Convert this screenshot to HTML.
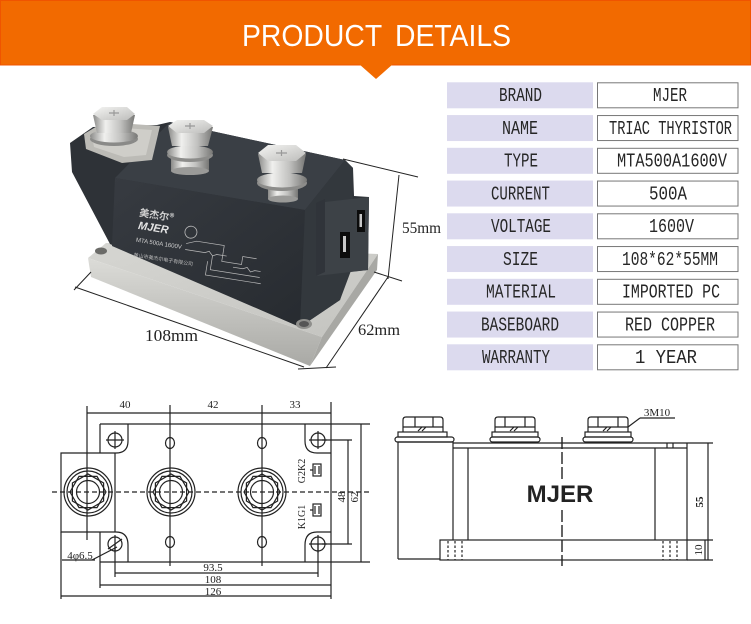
<!DOCTYPE html>
<html><head><meta charset="utf-8">
<style>
html,body{margin:0;padding:0;background:#fff;}
body{width:751px;height:624px;overflow:hidden;}
svg{display:block;}
</style></head><body>
<svg width="751" height="624" viewBox="0 0 751 624" xmlns="http://www.w3.org/2000/svg">
<defs>
 <linearGradient id="metal" x1="0" x2="1" y1="0" y2="0">
  <stop offset="0" stop-color="#8a8a88"/><stop offset="0.3" stop-color="#f0f0ee"/><stop offset="0.65" stop-color="#c2c2c0"/><stop offset="1" stop-color="#777775"/>
 </linearGradient>
 <linearGradient id="metalTop" x1="0" y1="0" x2="1" y2="1">
  <stop offset="0" stop-color="#f4f4f2"/><stop offset="1" stop-color="#bdbdbb"/>
 </linearGradient>
 <linearGradient id="face" x1="0" y1="0" x2="1" y2="1">
  <stop offset="0" stop-color="#373b41"/><stop offset="1" stop-color="#272b30"/>
 </linearGradient>
 <linearGradient id="ptop" x1="0" y1="0" x2="1" y2="1">
  <stop offset="0" stop-color="#d6d6d2"/><stop offset="1" stop-color="#c4c4c0"/>
 </linearGradient>
 <linearGradient id="pfront" x1="0" y1="0" x2="0" y2="1">
  <stop offset="0" stop-color="#dcdcd8"/><stop offset="1" stop-color="#a9a9a5"/>
 </linearGradient>
 <g id="term" fill="none" stroke="#222" stroke-width="1.2">
  <circle r="24"/><circle r="21"/>
  <polygon points="18,0 9,15.6 -9,15.6 -18,0 -9,-15.6 9,-15.6"/>
  <polygon points="15.6,9 0,18 -15.6,9 -15.6,-9 0,-18 15.6,-9"/>
  <circle r="11.5"/>
 </g>
</defs>

<!-- HEADER -->
<rect x="0" y="0" width="751" height="65" fill="#f26a00"/>
<rect x="0.5" y="0.5" width="750" height="64.5" fill="none" stroke="#f05400" stroke-width="1"/>
<polygon points="359,64 393,64 376,79" fill="#f26a00"/>
<text x="242" y="46" font-family="Liberation Sans, sans-serif" font-size="31" fill="#ffffff" textLength="269" lengthAdjust="spacingAndGlyphs" word-spacing="6">PRODUCT DETAILS</text>

<!-- TABLE -->
<g font-family="Liberation Mono, monospace" font-size="19" fill="#262626">
 <rect x="447" y="82.3" width="146" height="26" fill="#dcdaee"/>
 <rect x="597.5" y="82.8" width="140.5" height="25" fill="#fff" stroke="#777" stroke-width="1"/>
 <text x="499" y="101" textLength="43" lengthAdjust="spacingAndGlyphs">BRAND</text>
 <text x="653" y="101" textLength="34" lengthAdjust="spacingAndGlyphs">MJER</text>

 <rect x="447" y="115.05" width="146" height="26" fill="#dcdaee"/>
 <rect x="597.5" y="115.55" width="140.5" height="25" fill="#fff" stroke="#777" stroke-width="1"/>
 <text x="502" y="133.75" textLength="36" lengthAdjust="spacingAndGlyphs">NAME</text>
 <text x="609" y="133.75" textLength="123" lengthAdjust="spacingAndGlyphs">TRIAC THYRISTOR</text>

 <rect x="447" y="147.8" width="146" height="26" fill="#dcdaee"/>
 <rect x="597.5" y="148.3" width="140.5" height="25" fill="#fff" stroke="#777" stroke-width="1"/>
 <text x="504" y="166.5" textLength="34" lengthAdjust="spacingAndGlyphs">TYPE</text>
 <text x="617" y="166.5" textLength="110" lengthAdjust="spacingAndGlyphs">MTA500A1600V</text>

 <rect x="447" y="180.55" width="146" height="26" fill="#dcdaee"/>
 <rect x="597.5" y="181.05" width="140.5" height="25" fill="#fff" stroke="#777" stroke-width="1"/>
 <text x="491" y="199.25" textLength="59" lengthAdjust="spacingAndGlyphs">CURRENT</text>
 <text x="649" y="199.25" textLength="38" lengthAdjust="spacingAndGlyphs">500A</text>

 <rect x="447" y="213.3" width="146" height="26" fill="#dcdaee"/>
 <rect x="597.5" y="213.8" width="140.5" height="25" fill="#fff" stroke="#777" stroke-width="1"/>
 <text x="491" y="232" textLength="60" lengthAdjust="spacingAndGlyphs">VOLTAGE</text>
 <text x="649" y="232" textLength="45" lengthAdjust="spacingAndGlyphs">1600V</text>

 <rect x="447" y="246.05" width="146" height="26" fill="#dcdaee"/>
 <rect x="597.5" y="246.55" width="140.5" height="25" fill="#fff" stroke="#777" stroke-width="1"/>
 <text x="503" y="264.75" textLength="35" lengthAdjust="spacingAndGlyphs">SIZE</text>
 <text x="622" y="264.75" textLength="96" lengthAdjust="spacingAndGlyphs">108*62*55MM</text>

 <rect x="447" y="278.8" width="146" height="26" fill="#dcdaee"/>
 <rect x="597.5" y="279.3" width="140.5" height="25" fill="#fff" stroke="#777" stroke-width="1"/>
 <text x="486" y="297.5" textLength="70" lengthAdjust="spacingAndGlyphs">MATERIAL</text>
 <text x="622" y="297.5" textLength="98" lengthAdjust="spacingAndGlyphs">IMPORTED PC</text>

 <rect x="447" y="311.55" width="146" height="26" fill="#dcdaee"/>
 <rect x="597.5" y="312.05" width="140.5" height="25" fill="#fff" stroke="#777" stroke-width="1"/>
 <text x="481" y="330.25" textLength="78" lengthAdjust="spacingAndGlyphs">BASEBOARD</text>
 <text x="625" y="330.25" textLength="90" lengthAdjust="spacingAndGlyphs">RED COPPER</text>

 <rect x="447" y="344.3" width="146" height="26" fill="#dcdaee"/>
 <rect x="597.5" y="344.8" width="140.5" height="25" fill="#fff" stroke="#777" stroke-width="1"/>
 <text x="482" y="363" textLength="68" lengthAdjust="spacingAndGlyphs">WARRANTY</text>
 <text x="635" y="363" textLength="62" lengthAdjust="spacingAndGlyphs">1 YEAR</text>
</g>

<!-- PHOTO: base plate -->
<polygon points="88,258 106,243 378,254 322,337" fill="url(#ptop)"/>
<polygon points="88,258 322,337 310,366 91,277" fill="url(#pfront)"/>
<polygon points="322,337 378,254 377,270 310,366" fill="#a8a8a4"/>
<ellipse cx="101" cy="251" rx="6" ry="3.5" fill="#6b6b68"/>

<!-- body -->
<polygon points="70,143 72,172 110,244 300,327 340,300 348,272 368,270 369,197 354,196 353,168 345,160 170,122 157,125 93,127" fill="#2e3237"/>
<polygon points="170,122 345,160 305,210 115,178" fill="#3a3f45"/>
<polygon points="115,178 305,210 300,327 112,246" fill="url(#face)"/>
<polygon points="305,210 345,160 353,168 352,268 340,300 300,327" fill="#33383d"/>
<polygon points="316,203 369,197 368,270 316,276" fill="#3d4247"/>
<polygon points="316,203 325,199 325,272 316,276" fill="#30343a"/>
<rect x="340" y="232" width="10" height="26" fill="#0c0c0c"/>
<rect x="343" y="236" width="3" height="16" fill="#c8c8c8"/>
<rect x="357" y="210" width="8" height="22" fill="#0c0c0c"/>
<rect x="359.5" y="214" width="2.5" height="13" fill="#c8c8c8"/>
<ellipse cx="304" cy="324" rx="8" ry="5" fill="#8f8f8c"/>
<ellipse cx="304" cy="324" rx="5" ry="3" fill="#555"/>

<!-- face text -->
<g transform="rotate(9 140 215)">
 <text x="139" y="216" font-family="Noto Sans CJK SC, sans-serif" font-size="10" font-weight="bold" fill="#d0d0d0">美杰尔®</text>
 <text x="140" y="229" font-family="Liberation Sans, sans-serif" font-size="11" font-weight="bold" font-style="italic" fill="#e4e4e4">MJER</text>
 <circle cx="193" cy="224" r="6" fill="none" stroke="#bbb" stroke-width="0.8"/>
 <text x="140" y="242" font-family="Liberation Sans, sans-serif" font-size="6" fill="#d0d0d0">MTA 500A 1600V</text>
 <text x="140" y="257" font-family="Noto Sans CJK SC, sans-serif" font-size="5" fill="#bdbdbd">黄山市美杰尔电子有限公司</text>
 <g fill="none" stroke="#bbb" stroke-width="0.7">
  <polyline points="190,236 200,232 228,232 228,248 248,248 248,240 262,240"/>
  <polyline points="190,242 210,242 214,240 218,244 222,242 232,242"/>
  <polyline points="218,244 218,258 268,258"/>
  <polyline points="214,250 214,264 270,264"/>
  <polyline points="240,252 250,252 254,250 258,254 262,252 268,252"/>
 </g>
</g>

<!-- nut 1 plate & nut -->
<polygon points="84,134 104,122 160,126 152,160 122,163 86,149" fill="#bcbbb6"/>
<polygon points="92,136 108,127 152,130 146,155 124,157 94,147" fill="#cfcec9"/>
<ellipse cx="114" cy="139" rx="24" ry="7" fill="#8a8a88"/>
<ellipse cx="114" cy="136" rx="24" ry="6.5" fill="url(#metal)"/>
<polygon points="93,115 97,133 131,133 135,115" fill="url(#metal)"/>
<polygon points="93,114 102,107 127,107 135,114 127,120 102,120" fill="url(#metalTop)"/>
<path d="M109,113 h10 M114,110 v6" stroke="#999" stroke-width="1.2"/>

<!-- nut 2 -->
<rect x="171" y="156" width="38" height="15" fill="url(#metal)"/>
<ellipse cx="190" cy="171" rx="19" ry="4" fill="#9a9a98"/>
<ellipse cx="190" cy="155" rx="23" ry="7" fill="#8c8c8a"/>
<ellipse cx="190" cy="152" rx="23" ry="6.5" fill="url(#metal)"/>
<polygon points="168,127 172,146 208,146 213,127" fill="url(#metal)"/>
<polygon points="168,126 177,120 204,120 213,126 204,133 177,133" fill="url(#metalTop)"/>
<path d="M185,126 h10 M190,123 v6" stroke="#999" stroke-width="1.2"/>

<!-- nut 3 -->
<rect x="268" y="184" width="30" height="15" fill="url(#metal)"/>
<ellipse cx="283" cy="199" rx="15" ry="3.5" fill="#9a9a98"/>
<ellipse cx="282" cy="183" rx="25" ry="8" fill="#8c8c8a"/>
<ellipse cx="282" cy="180" rx="25" ry="7.5" fill="url(#metal)"/>
<polygon points="258,154 262,173 302,173 306,154" fill="url(#metal)"/>
<polygon points="258,153 268,145 296,145 306,153 296,161 268,161" fill="url(#metalTop)"/>
<path d="M276,153 h11 M281.5,150 v6" stroke="#999" stroke-width="1.2"/>

<!-- photo dimension lines -->
<g stroke="#222" stroke-width="1" fill="none">
 <line x1="75" y1="287" x2="304" y2="367"/>
 <line x1="74" y1="290" x2="91" y2="272"/>
 <line x1="298" y1="369" x2="336" y2="367"/>
 <line x1="326" y1="368" x2="388" y2="277"/>
 <line x1="374" y1="272" x2="402" y2="281"/>
 <line x1="399" y1="175" x2="388" y2="279"/>
 <line x1="343" y1="159" x2="418" y2="177"/>
</g>
<g font-family="Liberation Serif, serif" fill="#222">
 <text x="145" y="341" font-size="17" textLength="53" lengthAdjust="spacingAndGlyphs">108mm</text>
 <text x="358" y="335" font-size="16" textLength="42" lengthAdjust="spacingAndGlyphs">62mm</text>
 <text x="402" y="233" font-size="16" textLength="39" lengthAdjust="spacingAndGlyphs">55mm</text>
</g>

<!-- LEFT DRAWING -->
<g stroke="#222" stroke-width="1.2" fill="none">
 <line x1="87" y1="413" x2="331" y2="413"/>
 <line x1="87" y1="406" x2="87" y2="540"/>
 <line x1="170" y1="405" x2="170" y2="566"/>
 <line x1="262" y1="405" x2="262" y2="566"/>
 <line x1="331" y1="402" x2="331" y2="599"/>
 <line x1="100" y1="424" x2="370" y2="424"/>
 <line x1="100" y1="562" x2="370" y2="562"/>
 <line x1="100" y1="424" x2="100" y2="453"/>
 <line x1="100" y1="532" x2="100" y2="588"/>
 <path d="M128,424 V441 Q128,453 116,453 H61 V532 H116 Q128,532 128,545 V562"/>
 <line x1="115" y1="453" x2="115" y2="532"/>
 <path d="M305,424 V441 Q305,453 317,453 H331"/>
 <path d="M331,532 H317 Q305,532 305,545 V562"/>
 <circle cx="115" cy="440" r="7"/><circle cx="318" cy="440" r="7"/>
 <circle cx="115" cy="544" r="7"/><circle cx="318" cy="544" r="7"/>
 <path d="M106,440 h18 M115,431 v18 M309,440 h18 M318,431 v18 M309,544 h18 M318,535 v18 M115,535 v18"/>
 <line x1="108" y1="549" x2="122" y2="539"/>
 <ellipse cx="170" cy="443" rx="4.5" ry="5.5"/><ellipse cx="170" cy="542" rx="4.5" ry="5.5"/>
 <ellipse cx="262" cy="443" rx="4.5" ry="5.5"/><ellipse cx="262" cy="542" rx="4.5" ry="5.5"/>
 <line x1="52" y1="492" x2="371" y2="492" stroke-dasharray="5,3"/>
 <line x1="322" y1="440" x2="352" y2="440"/>
 <line x1="322" y1="544" x2="352" y2="544"/>
 <line x1="348" y1="440" x2="348" y2="544"/>
 <line x1="361" y1="424" x2="361" y2="562"/>
 <line x1="115" y1="544" x2="115" y2="577"/>
 <line x1="318" y1="544" x2="318" y2="577"/>
 <line x1="115" y1="573" x2="318" y2="573"/>
 <line x1="100" y1="585" x2="331" y2="585"/>
 <line x1="61" y1="532" x2="61" y2="599"/>
 <line x1="61" y1="596" x2="331" y2="596"/>
 <line x1="62" y1="560" x2="95" y2="560"/>
 <line x1="92" y1="560" x2="117" y2="547"/>
 <rect x="313" y="464" width="8" height="12"/>
 <path d="M315,466 v8 M319,466 v8 M313,470 h-3"/>
 <rect x="313" y="504" width="8" height="12"/>
 <path d="M315,506 v8 M319,506 v8 M313,510 h-3"/>
</g>
<use href="#term" x="88" y="492"/>
<use href="#term" x="171" y="492"/>
<use href="#term" x="262" y="492"/>
<g font-family="Liberation Serif, serif" font-size="11" fill="#222" text-anchor="middle">
 <text x="125" y="408">40</text>
 <text x="213" y="408">42</text>
 <text x="295" y="408">33</text>
 <text x="213" y="571">93.5</text>
 <text x="213" y="583">108</text>
 <text x="213" y="595">126</text>
 <text x="80" y="559">4φ6.5</text>
 <text transform="translate(345 497) rotate(-90)">48</text>
 <text transform="translate(358 497) rotate(-90)">62</text>
 <text transform="translate(305 517) rotate(-90)" font-size="10">K1G1</text>
 <text transform="translate(305 471) rotate(-90)" font-size="10">G2K2</text>
</g>

<!-- RIGHT DRAWING -->
<g stroke="#222" stroke-width="1.2" fill="none">
 <path d="M398,559 V442 H453"/>
 <line x1="398" y1="559" x2="440" y2="559"/>
 <line x1="453" y1="442" x2="453" y2="540"/>
 <line x1="453" y1="443" x2="687" y2="443"/>
 <line x1="453" y1="448" x2="687" y2="448"/>
 <line x1="687" y1="443" x2="687" y2="540"/>
 <line x1="468" y1="448" x2="468" y2="540"/>
 <line x1="655" y1="448" x2="655" y2="540"/>
 <path d="M667,443 v5 M673,443 v5"/>
 <rect x="440" y="540" width="247" height="20"/>
 <g stroke-dasharray="2.5,2">
  <line x1="448" y1="541" x2="448" y2="560"/><line x1="455" y1="541" x2="455" y2="560"/><line x1="462" y1="541" x2="462" y2="560"/>
  <line x1="663" y1="541" x2="663" y2="560"/><line x1="670" y1="541" x2="670" y2="560"/><line x1="677" y1="541" x2="677" y2="560"/>
 </g>
 <line x1="562" y1="437" x2="562" y2="479" stroke-dasharray="12,3" stroke-width="1.4"/>
 <line x1="562" y1="510" x2="562" y2="566" stroke-dasharray="12,3" stroke-width="1.4"/>
 <!-- nut 1 -->
 <path d="M403,432 V420 Q403,417 406,417 H440 Q443,417 443,420 V432"/>
 <path d="M415,417 v10 M433,417 v10 M403,427 h40 M418,431 l4,-4 M422,431 l4,-4"/>
 <rect x="398" y="432" width="49" height="5"/>
 <rect x="395" y="437" width="59" height="5" rx="2.5"/>
 <!-- nut 2 -->
 <path d="M495,432 V420 Q495,417 498,417 H532 Q535,417 535,420 V432"/>
 <path d="M505,417 v10 M525,417 v10 M495,427 h40 M510,431 l4,-4 M514,431 l4,-4"/>
 <rect x="492" y="432" width="46" height="5"/>
 <rect x="490" y="437" width="50" height="5" rx="2.5"/>
 <!-- nut 3 -->
 <path d="M588,432 V420 Q588,417 591,417 H625 Q628,417 628,420 V432"/>
 <path d="M598,417 v10 M618,417 v10 M588,427 h40 M603,431 l4,-4 M607,431 l4,-4"/>
 <rect x="585" y="432" width="46" height="5"/>
 <rect x="583" y="437" width="50" height="5" rx="2.5"/>
 <line x1="628" y1="427" x2="640" y2="418"/>
 <line x1="640" y1="418" x2="675" y2="418"/>
 <line x1="687" y1="443" x2="713" y2="443"/>
 <line x1="687" y1="540" x2="713" y2="540"/>
 <line x1="687" y1="560" x2="713" y2="560"/>
 <line x1="708" y1="443" x2="708" y2="560"/>
 <line x1="705" y1="540" x2="705" y2="560"/>
</g>
<text x="560" y="502" font-family="Liberation Sans, sans-serif" font-size="24" font-weight="bold" fill="#222" text-anchor="middle">MJER</text>
<g font-family="Liberation Serif, serif" font-size="11" fill="#222" text-anchor="middle">
 <text x="657" y="416">3M10</text>
 <text transform="translate(703 502) rotate(-90)" font-weight="bold">55</text>
 <text transform="translate(702 550) rotate(-90)">10</text>
</g>
</svg>
</body></html>
